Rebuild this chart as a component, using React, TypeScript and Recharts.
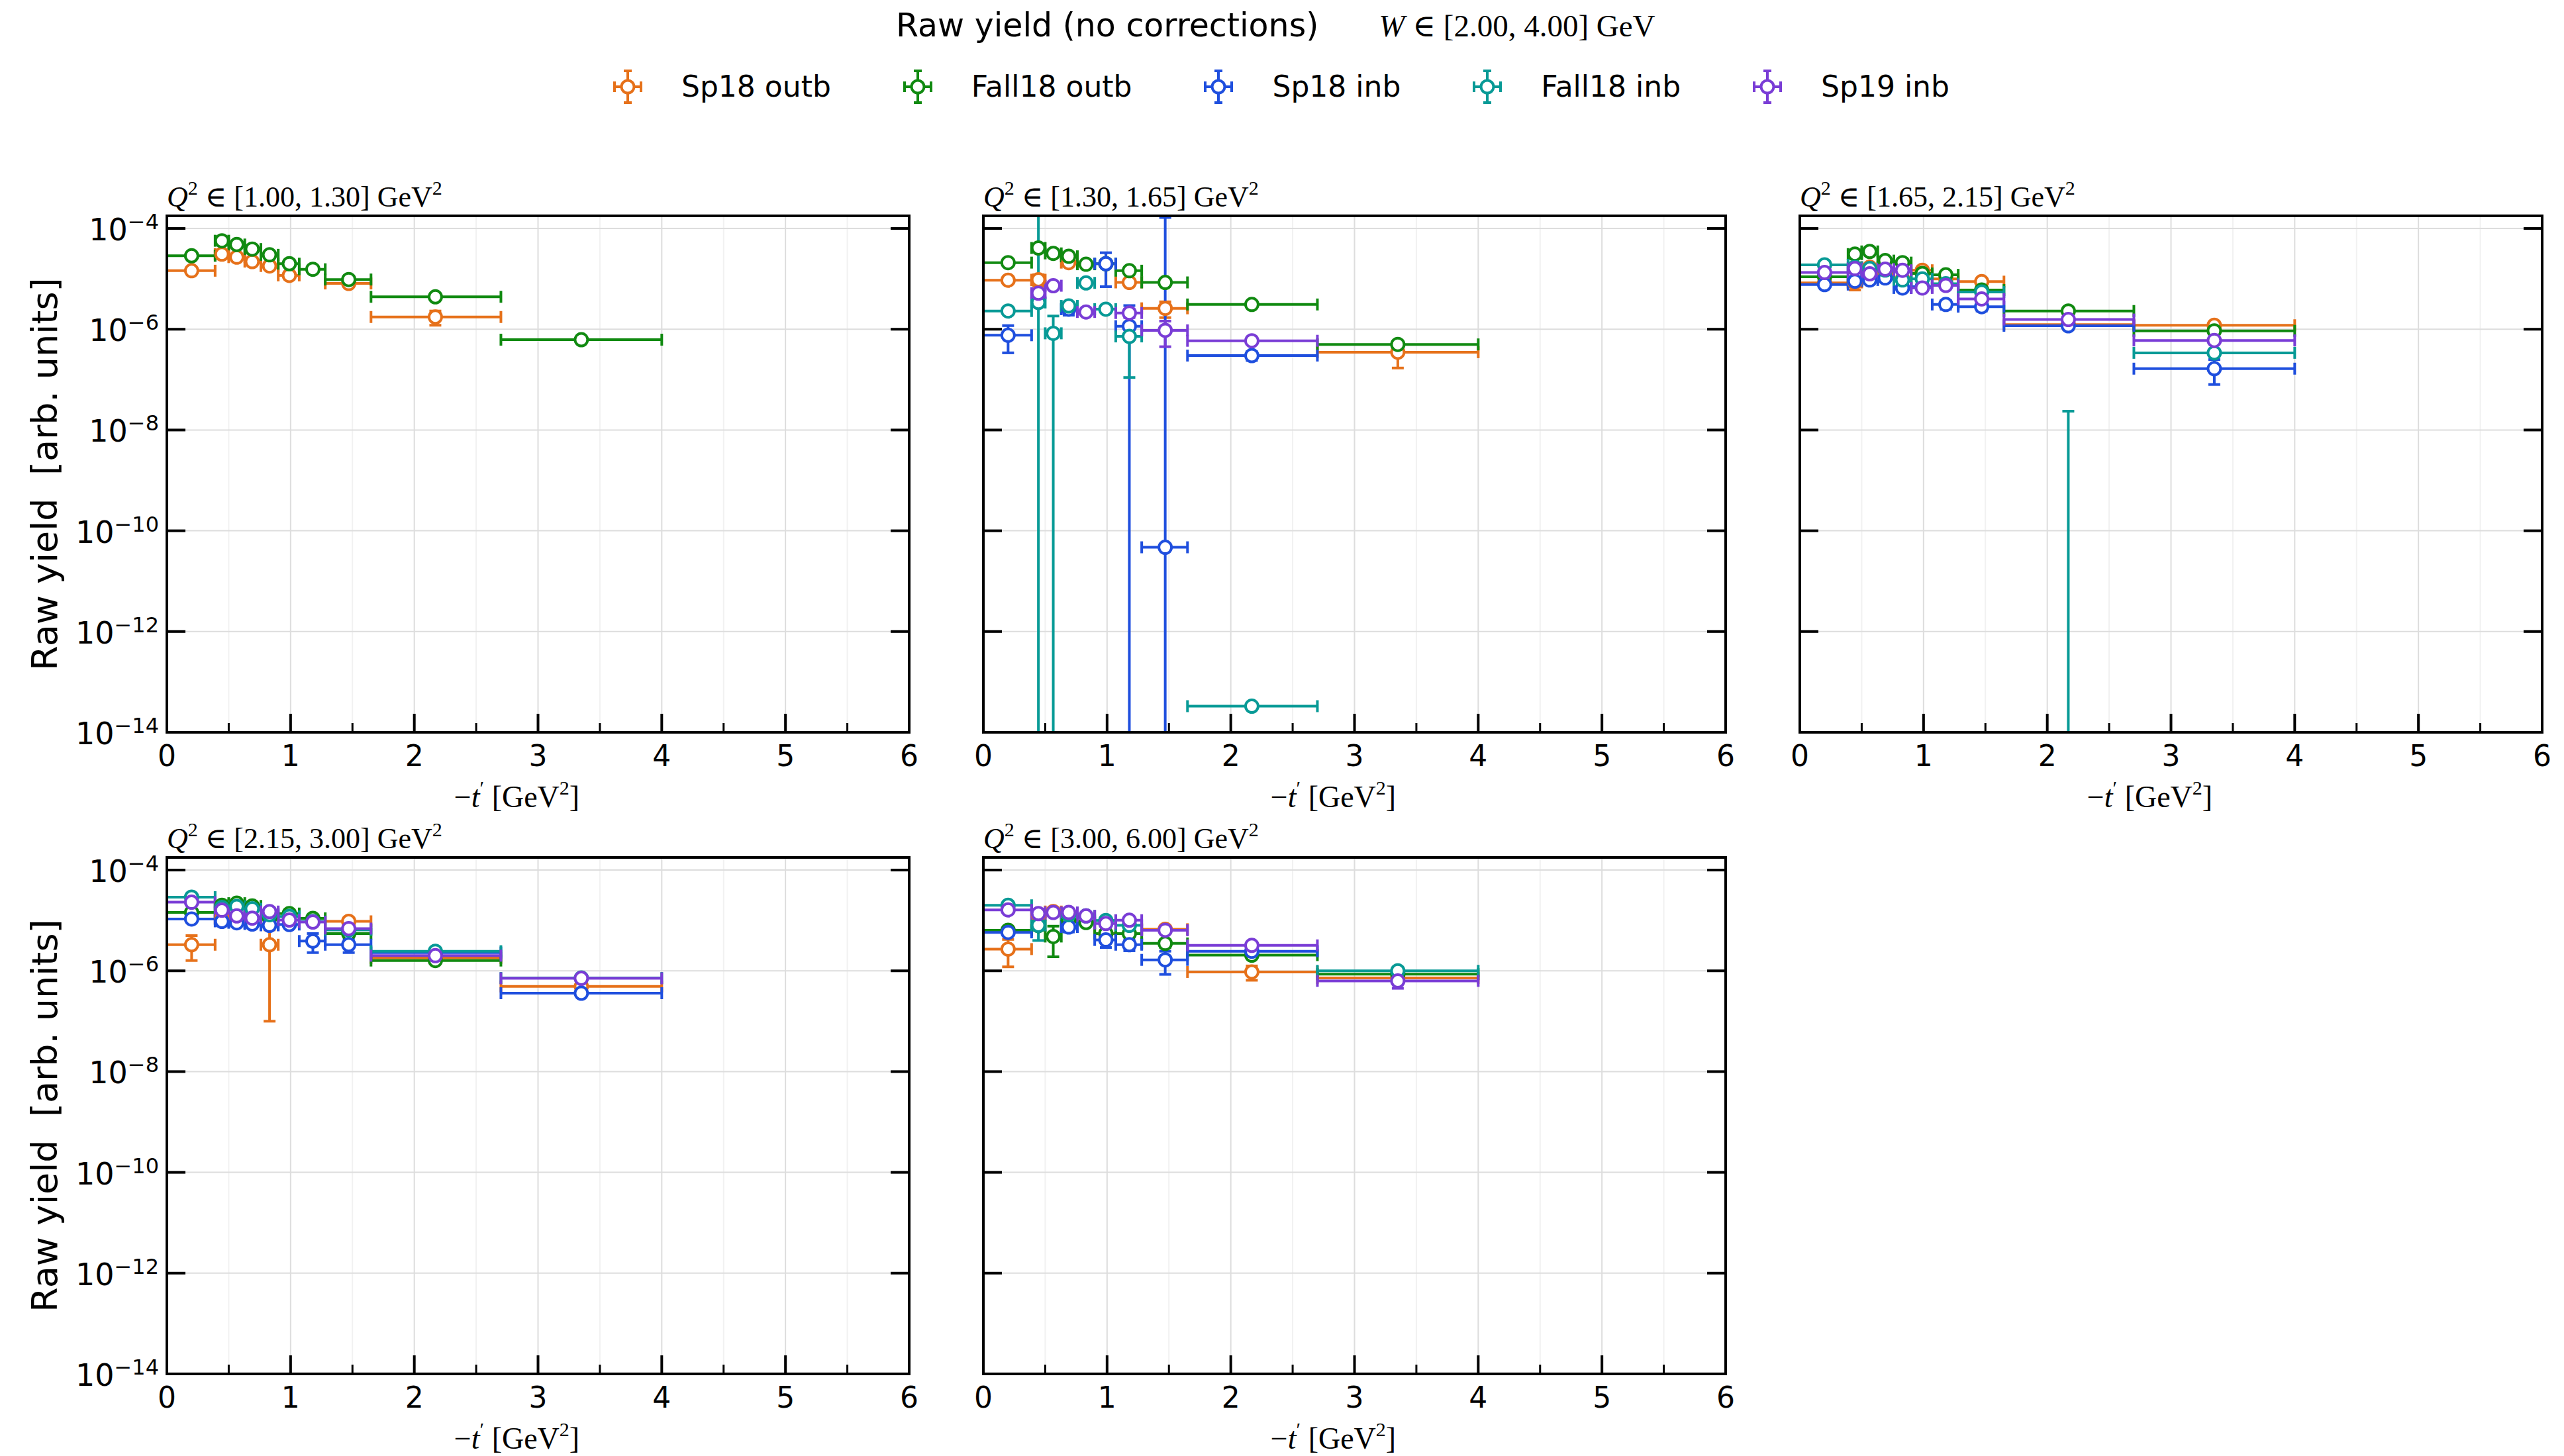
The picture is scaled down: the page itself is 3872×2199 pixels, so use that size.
import React from 'react';
import { ScatterChart, Scatter, XAxis, YAxis, CartesianGrid, ErrorBar } from 'recharts';

// run periods, in the order they are drawn
const SERIES = ['Sp18 outb', 'Fall18 outb', 'Sp18 inb', 'Fall18 inb', 'Sp19 inb'];
const COLORS = ['#e6711a', '#118a11', '#1f4fde', '#089a96', '#7a3dd6'];

// -t' binning (shared by every Q2 bin)
const T_EDGES = [0, 0.39, 0.5, 0.63, 0.76, 0.9, 1.07, 1.28, 1.65, 2.7, 4.0];
const T_CENTERS = [0.2, 0.445, 0.565, 0.69, 0.83, 0.99, 1.18, 1.47, 2.17, 3.35];

const Q2_BINS = [
  [1.0, 1.3],
  [1.3, 1.65],
  [1.65, 2.15],
  [2.15, 3.0],
  [3.0, 6.0],
];

const X_TICKS = [0, 0.5, 1, 1.5, 2, 2.5, 3, 3.5, 4, 4.5, 5, 5.5, 6];
const X_GRID_MAJOR = [1, 2, 3, 4, 5];
const X_GRID_MINOR = [0.5, 1.5, 2.5, 3.5, 4.5, 5.5];
const Y_TICKS = [1e-14, 1e-12, 1e-10, 1e-8, 1e-6, 1e-4];
const Y_DOMAIN = [1e-14, 1.78e-4];

const _ = null;

// yields per series (rows follow SERIES), one value per -t' bin
const YIELD_Q1 = [
  [1.45e-5, 3.1e-5, 2.7e-5, 2.2e-5, 1.8e-5, 1.17e-5, _, 8.1e-6, 1.75e-6, _],
  [2.87e-5, 5.7e-5, 4.8e-5, 3.9e-5, 3.0e-5, 2.0e-5, 1.55e-5, 9.7e-6, 4.4e-6, 6.2e-7],
  [],
  [],
  [],
];
const ERR_Q1 = [
  [1.2e-6, 2.5e-6, 2.2e-6, 1.8e-6, 1.6e-6, 1.8e-6, _, 1.0e-6, 5.5e-7, _],
  [1.5e-6, 3.0e-6, 2.5e-6, 2.0e-6, 1.6e-6, 1.2e-6, 1.0e-6, 6.0e-7, 2.5e-7, 5.0e-8],
  [],
  [],
  [],
];

const YIELD_Q2 = [
  [9.4e-6, 9.6e-6, _, 2.1e-5, _, _, 8.5e-6, 2.6e-6, _, 3.5e-7],
  [2.1e-5, 4.1e-5, 3.2e-5, 2.8e-5, 1.95e-5, 2.0e-5, 1.45e-5, 8.5e-6, 3.1e-6, 5.0e-7],
  [7.6e-7, _, _, 2.5e-6, _, 2.0e-5, 1.15e-6, 4.7e-11, 3.0e-7, _],
  [2.3e-6, 3.4e-6, 8.3e-7, 2.9e-6, 8.3e-6, 2.5e-6, 7.2e-7, _, 3.3e-14, _],
  [_, 5.2e-6, 7.3e-6, _, 2.2e-6, _, 2.1e-6, 9.5e-7, 5.9e-7, _],
];
const ERR_Q2 = [
  [1.0e-6, 2.5e-6, _, 2.0e-6, _, _, 1.2e-6, 9.0e-7, _, 1.8e-7],
  [1.2e-6, 3.0e-6, 2.0e-6, 2.0e-6, 1.5e-6, 1.5e-6, 1.2e-6, 7.0e-7, 2.5e-7, 6.0e-8],
  [4.2e-7, _, _, 6.0e-7, _, 1.3e-5, 1.8e-6, 1.65e-4, 6.0e-8, _],
  [2.0e-7, 3.0e-4, 1.0e-6, 5.0e-7, 7.0e-7, 2.5e-7, 6.1e-7, _, 1.0e-15, _],
  [_, 8.0e-7, 1.0e-6, _, 3.0e-7, _, 4.0e-7, 5.0e-7, 6.0e-8, _],
];

const YIELD_Q3 = [
  [8.3e-6, 8.5e-6, 1.7e-5, 1.3e-5, 1.0e-5, 1.48e-5, 1.0e-5, 8.8e-6, 1.24e-6, 1.2e-6],
  [1.1e-5, 3.1e-5, 3.5e-5, 2.3e-5, 2.1e-5, 1.28e-5, 1.2e-5, 6.0e-6, 2.3e-6, 9.3e-7],
  [7.7e-6, 9.0e-6, 9.5e-6, 1.04e-5, 6.6e-6, 7.0e-6, 3.1e-6, 2.8e-6, 1.17e-6, 1.65e-7],
  [1.9e-5, 1.7e-5, 1.6e-5, 1.5e-5, 9.5e-6, 1.0e-5, 8.0e-6, 5.5e-6, 1.0e-16, 3.4e-7],
  [1.34e-5, 1.6e-5, 1.26e-5, 1.56e-5, 1.48e-5, 6.6e-6, 7.4e-6, 4.0e-6, 1.56e-6, 6.0e-7],
];
const ERR_Q3 = [
  [8e-7, 2.5e-6, 1.5e-6, 1.0e-6, 1.0e-6, 1.2e-6, 1.0e-6, 7e-7, 2.5e-7, 1.2e-7],
  [8e-7, 2e-6, 2e-6, 1.5e-6, 1.3e-6, 9e-7, 8e-7, 4e-7, 1.5e-7, 6e-8],
  [6e-7, 8e-7, 1.5e-6, 1.2e-6, 1e-6, 8e-7, 6e-7, 5e-7, 1.5e-7, 8.5e-8],
  [1e-6, 1.2e-6, 1.2e-6, 1e-6, 8e-7, 8e-7, 7e-7, 4e-7, 2.36e-8, 4e-8],
  [8e-7, 1e-6, 1e-6, 1e-6, 9e-7, 6e-7, 5e-7, 3e-7, 1e-7, 5e-8],
];

const YIELD_Q4 = [
  [3.3e-6, 1.1e-5, _, _, 3.3e-6, _, _, 9.6e-6, 1.8e-6, 4.9e-7],
  [1.44e-5, 2.0e-5, 2.2e-5, 1.94e-5, 1.1e-5, 1.37e-5, 1.1e-5, 5.5e-6, 1.6e-6, _],
  [1.07e-5, 9.6e-6, 9.0e-6, 8.5e-6, 8.0e-6, 8.3e-6, 3.9e-6, 3.3e-6, 2.3e-6, 3.6e-7],
  [2.9e-5, 1.8e-5, 1.9e-5, 1.7e-5, 1.3e-5, 1.2e-5, 9.5e-6, 6.5e-6, 2.45e-6, 7.2e-7],
  [2.3e-5, 1.6e-5, 1.23e-5, 1.11e-5, 1.5e-5, 1.02e-5, 9.3e-6, 6.9e-6, 2.0e-6, 7.1e-7],
];
const ERR_Q4 = [
  [1.7e-6, 1.2e-6, _, _, 3.2e-6, _, _, 1.0e-6, 1.5e-7, 4e-8],
  [1e-6, 1.5e-6, 1.5e-6, 1.4e-6, 9e-7, 9e-7, 8e-7, 4e-7, 1.2e-7, _],
  [8e-7, 8e-7, 8e-7, 8e-7, 8e-7, 8e-7, 1.6e-6, 1.0e-6, 2e-7, 3e-8],
  [1.5e-6, 1.2e-6, 1.2e-6, 1.1e-6, 1e-6, 9e-7, 7e-7, 5e-7, 1.5e-7, 5e-8],
  [1.2e-6, 1e-6, 9e-7, 8e-7, 1e-6, 7e-7, 6e-7, 5e-7, 1.2e-7, 5e-8],
];

const YIELD_Q5 = [
  [2.7e-6, 1.3e-5, 1.5e-5, _, _, 5.5e-6, _, 6.7e-6, 9.5e-7, 7.2e-7],
  [6.4e-6, 7.9e-6, 4.8e-6, 1.0e-5, 9.1e-6, 5.5e-6, 5.5e-6, 3.5e-6, 2.05e-6, 8.6e-7],
  [5.8e-6, _, _, 7.4e-6, _, 4.1e-6, 3.3e-6, 1.65e-6, 2.45e-6, _],
  [2.0e-5, 8.0e-6, _, 1.3e-5, 1.23e-5, 1.0e-5, 8.0e-6, _, _, 1.0e-6],
  [1.62e-5, 1.37e-5, 1.44e-5, 1.44e-5, 1.23e-5, 8.7e-6, 1.01e-5, 6.4e-6, 3.2e-6, 6.3e-7],
];
const ERR_Q5 = [
  [1.5e-6, 1.5e-6, 1.5e-6, _, _, 8e-7, _, 8e-7, 3e-7, 1e-7],
  [6e-7, 1.5e-6, 2.9e-6, 1e-6, 1e-6, 8e-7, 8e-7, 6e-7, 2e-7, 8e-8],
  [5e-7, _, _, 1.5e-6, _, 1.2e-6, 8e-7, 8e-7, 2e-7, _],
  [1.2e-6, 4e-6, _, 1e-6, 1e-6, 8e-7, 8e-7, _, _, 8e-8],
  [1e-6, 1e-6, 1e-6, 1e-6, 8e-7, 7e-7, 7e-7, 5e-7, 2e-7, 1.8e-7],
];

// layout (px)
const PLOT_W = 1121;
const PLOT_H = 780;
const COL_X = [252, 1485, 2718];
const ROW_Y = [326, 1295];
const AX_L = 260;
const AX_R = 40;
const AX_T = 90;
const AX_B = 130;

const PANELS = [
  { q2: Q2_BINS[0], ys: YIELD_Q1, errs: ERR_Q1, col: 0, row: 0 },
  { q2: Q2_BINS[1], ys: YIELD_Q2, errs: ERR_Q2, col: 1, row: 0 },
  { q2: Q2_BINS[2], ys: YIELD_Q3, errs: ERR_Q3, col: 2, row: 0 },
  { q2: Q2_BINS[3], ys: YIELD_Q4, errs: ERR_Q4, col: 0, row: 1 },
  { q2: Q2_BINS[4], ys: YIELD_Q5, errs: ERR_Q5, col: 1, row: 1 },
];

const SANS = 'DejaVu Sans, sans-serif';
const SERIF = 'Liberation Serif, DejaVu Serif, serif';
const AXIS_LINE = { stroke: '#000', strokeWidth: 4, strokeLinecap: 'square' };

// error bars are not clipped by recharts, so their ends are cut to the axis range here
function buildRows(ys: (number | null)[], errs: (number | null)[]) {
  const shown: any[] = [];
  const offscale: any[] = [];
  ys.forEach((y, i) => {
    if (y == null) return;
    const e = errs[i] ?? 0;
    const x = T_CENTERS[i];
    const lo = Math.max(y - e, Y_DOMAIN[0]);
    const hi = Math.min(y + e, Y_DOMAIN[1]);
    if (y < Y_DOMAIN[0]) {
      // central value below the axis: only the upper part of its error bar is visible
      if (hi > Y_DOMAIN[0]) offscale.push({ x, y: Y_DOMAIN[0], yErr: [0, hi - Y_DOMAIN[0]] });
      return;
    }
    shown.push({
      x,
      y,
      xErr: [x - T_EDGES[i], T_EDGES[i + 1] - x],
      yErr: [y - lo, hi - y],
    });
  });
  return { shown, offscale };
}

const isMajor = (v: number) => Math.abs(v - Math.round(v)) < 1e-9;

const BottomTick = (p: any) => {
  const v = p.payload.value;
  const major = isMajor(v);
  return (
    <g>
      <line x1={p.x} x2={p.x} y1={p.y} y2={p.y - (major ? 28 : 14)} stroke="#000" strokeWidth={major ? 4 : 3} />
      {major && (
        <text x={p.x} y={p.y + 51} textAnchor="middle" fontFamily={SANS} fontSize={44} fill="#000">
          {v}
        </text>
      )}
    </g>
  );
};

const TopTick = (p: any) => {
  const major = isMajor(p.payload.value);
  return <line x1={p.x} x2={p.x} y1={p.y} y2={p.y + (major ? 28 : 14)} stroke="#000" strokeWidth={major ? 4 : 3} />;
};

const LeftTick = (p: any) => <line x1={p.x} x2={p.x + 28} y1={p.y} y2={p.y} stroke="#000" strokeWidth={4} />;

const LeftTickLabeled = (p: any) => {
  const exp = Math.round(Math.log10(p.payload.value));
  return (
    <g>
      <line x1={p.x} x2={p.x + 28} y1={p.y} y2={p.y} stroke="#000" strokeWidth={4} />
      <text x={p.x - 12} y={p.y + 18} textAnchor="end" fontFamily={SANS} fontSize={46} fill="#000">
        10
        <tspan dy={-17} fontSize={32}>
          {'\u2212' + Math.abs(exp)}
        </tspan>
      </text>
    </g>
  );
};

const RightTick = (p: any) => <line x1={p.x} x2={p.x - 28} y1={p.y} y2={p.y} stroke="#000" strokeWidth={4} />;

const Marker = (props: any) => {
  const { cx, cy, color } = props;
  if (cx == null || cy == null || isNaN(cx) || isNaN(cy)) return null;
  return <circle cx={cx} cy={cy} r={9.5} fill="#fff" stroke={color} strokeWidth={4} />;
};

function Panel({ panel }: { panel: (typeof PANELS)[number] }) {
  const left = COL_X[panel.col] - AX_L;
  const top = ROW_Y[panel.row] - AX_T;
  return (
    <div style={{ position: 'absolute', left, top }}>
      <ScatterChart
        width={AX_L + PLOT_W + AX_R}
        height={AX_T + PLOT_H + AX_B}
        margin={{ top: 0, right: 0, bottom: 0, left: 0 }}
      >
        <CartesianGrid verticalValues={X_GRID_MINOR} horizontal={false} stroke="#f1f1f1" strokeWidth={2} />
        <CartesianGrid verticalValues={X_GRID_MAJOR} horizontalValues={Y_TICKS} stroke="#dddddd" strokeWidth={2} />
        {SERIES.map((name, s) => {
          const { shown, offscale } = buildRows(panel.ys[s] || [], panel.errs[s] || []);
          const color = COLORS[s];
          return [
            offscale.length ? (
              <Scatter
                key={name + '-off'}
                name={name}
                data={offscale}
                isAnimationActive={false}
                legendType="none"
                shape={() => <g />}
              >
                <ErrorBar dataKey="yErr" direction="y" width={9} stroke={color} strokeWidth={4} isAnimationActive={false} />
              </Scatter>
            ) : null,
            shown.length ? (
              <Scatter
                key={name}
                name={name}
                data={shown}
                isAnimationActive={false}
                shape={(p: any) => <Marker {...p} color={color} />}
              >
                <ErrorBar dataKey="xErr" direction="x" width={9} stroke={color} strokeWidth={4} isAnimationActive={false} />
                <ErrorBar dataKey="yErr" direction="y" width={9} stroke={color} strokeWidth={4} isAnimationActive={false} />
              </Scatter>
            ) : null,
          ];
        })}
        <XAxis
          type="number"
          dataKey="x"
          domain={[0, 6]}
          ticks={X_TICKS}
          interval={0}
          allowDataOverflow
          height={AX_B}
          tickSize={0}
          tickMargin={0}
          tickLine={false}
          tick={BottomTick}
          axisLine={AXIS_LINE}
        />
        <XAxis
          xAxisId="top"
          orientation="top"
          type="number"
          domain={[0, 6]}
          ticks={X_TICKS}
          interval={0}
          allowDataOverflow
          height={AX_T}
          tickSize={0}
          tickMargin={0}
          tickLine={false}
          tick={TopTick}
          axisLine={AXIS_LINE}
        />
        <YAxis
          type="number"
          dataKey="y"
          scale="log"
          domain={Y_DOMAIN}
          ticks={Y_TICKS}
          interval={0}
          allowDataOverflow
          width={AX_L}
          tickSize={0}
          tickMargin={0}
          tickLine={false}
          tick={panel.col === 0 ? LeftTickLabeled : LeftTick}
          axisLine={AXIS_LINE}
        />
        <YAxis
          yAxisId="right"
          orientation="right"
          type="number"
          scale="log"
          domain={Y_DOMAIN}
          ticks={Y_TICKS}
          interval={0}
          allowDataOverflow
          width={AX_R}
          tickSize={0}
          tickMargin={0}
          tickLine={false}
          tick={RightTick}
          axisLine={AXIS_LINE}
        />
      </ScatterChart>
    </div>
  );
}

function LegendMarker({ color }: { color: string }) {
  return (
    <svg width={60} height={60}>
      <line x1={30} x2={30} y1={6} y2={54} stroke={color} strokeWidth={4} />
      <line x1={24} x2={36} y1={6} y2={6} stroke={color} strokeWidth={4} />
      <line x1={24} x2={36} y1={54} y2={54} stroke={color} strokeWidth={4} />
      <line x1={10} x2={50} y1={30} y2={30} stroke={color} strokeWidth={4} />
      <line x1={10} x2={10} y1={22} y2={38} stroke={color} strokeWidth={4} />
      <line x1={50} x2={50} y1={22} y2={38} stroke={color} strokeWidth={4} />
      <circle cx={30} cy={30} r={9.5} fill="#fff" stroke={color} strokeWidth={4} />
    </svg>
  );
}

export default function App() {
  return (
    <div style={{ position: 'absolute', left: 0, top: 0, width: 3872, height: 2199, background: '#fff', overflow: 'hidden' }}>
      {/* figure title */}
      <div
        style={{
          position: 'absolute',
          left: 1353,
          top: 14,
          display: 'flex',
          alignItems: 'baseline',
          whiteSpace: 'nowrap',
          lineHeight: 1,
        }}
      >
        <span style={{ fontFamily: SANS, fontSize: 49 }}>Raw yield (no corrections)</span>
        <span style={{ fontFamily: SERIF, fontSize: 47, marginLeft: 91 }}>
          <i>W</i> ∈ [2.00, 4.00] GeV
        </span>
      </div>

      {/* legend */}
      <div
        style={{
          position: 'absolute',
          left: 918,
          top: 101,
          height: 60,
          display: 'flex',
          alignItems: 'center',
          fontFamily: SANS,
          fontSize: 44,
          whiteSpace: 'nowrap',
        }}
      >
        {SERIES.map((name, i) => (
          <div key={name} style={{ display: 'flex', alignItems: 'center', marginLeft: i ? 101 : 0 }}>
            <LegendMarker color={COLORS[i]} />
            <span style={{ marginLeft: 51, lineHeight: '60px' }}>{name}</span>
          </div>
        ))}
      </div>

      {PANELS.map((p, i) => (
        <Panel key={i} panel={p} />
      ))}

      {/* panel titles and axis labels */}
      <svg width={3872} height={2199} style={{ position: 'absolute', left: 0, top: 0, pointerEvents: 'none' }}>
        {PANELS.map((p, i) => {
          const px = COL_X[p.col];
          const py = ROW_Y[p.row];
          return (
            <g key={i}>
              <text x={px} y={py - 14} fontFamily={SERIF} fontSize={44} fill="#000">
                <tspan fontStyle="italic">Q</tspan>
                <tspan dy={-18} fontSize={30}>2</tspan>
                <tspan dy={18}>{` ∈ [${p.q2[0].toFixed(2)}, ${p.q2[1].toFixed(2)}] GeV`}</tspan>
                <tspan dy={-18} fontSize={30}>2</tspan>
              </text>
              <text x={px + PLOT_W / 2 - 32} y={py + PLOT_H + 113} textAnchor="middle" fontFamily={SERIF} fontSize={46} fill="#000">
                {'\u2212'}
                <tspan fontStyle="italic">t</tspan>
                <tspan dy={-19} fontSize={30}>{'\u2032'}</tspan>
                <tspan dy={19}>{' [GeV'}</tspan>
                <tspan dy={-19} fontSize={30}>2</tspan>
                <tspan dy={19}>]</tspan>
              </text>
              {p.col === 0 && (
                <text
                  x={86}
                  y={py + PLOT_H / 2}
                  transform={`rotate(-90, 86, ${py + PLOT_H / 2})`}
                  textAnchor="middle"
                  fontFamily={SANS}
                  fontSize={54}
                  fill="#000"
                  style={{ whiteSpace: 'pre' }}
                >
                  {'Raw yield  [arb. units]'}
                </text>
              )}
            </g>
          );
        })}
      </svg>
    </div>
  );
}
